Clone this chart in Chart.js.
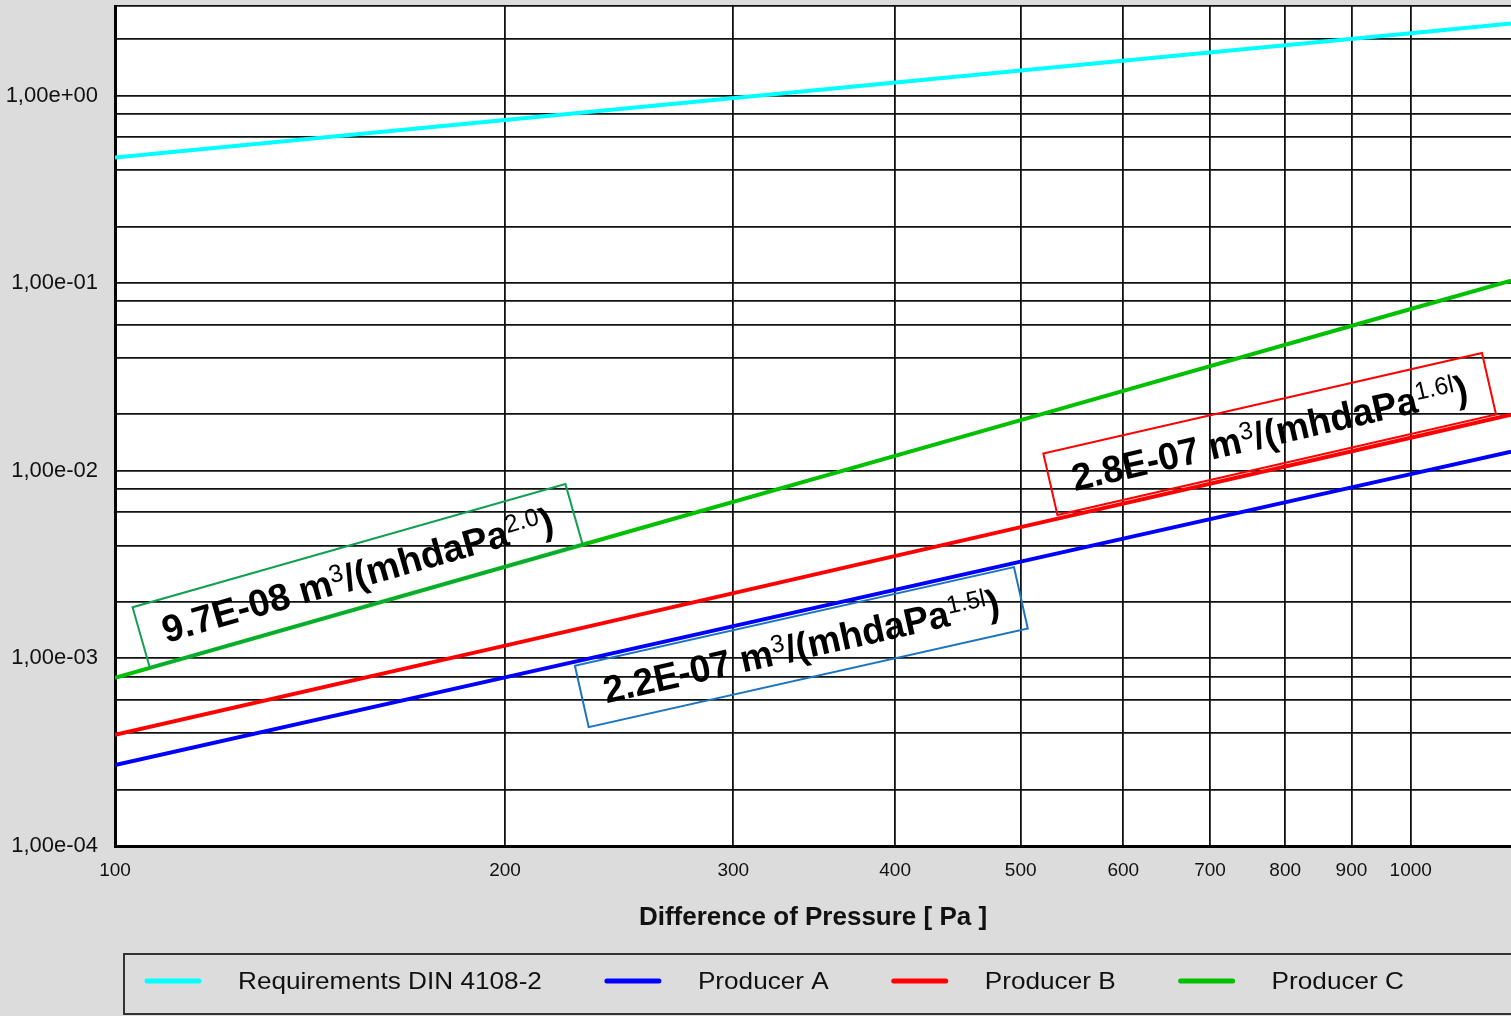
<!DOCTYPE html>
<html>
<head>
<meta charset="utf-8">
<title>Air permeability</title>
<script src="https://cdn.jsdelivr.net/npm/chart.js@4.4.0/dist/chart.umd.min.js"></script>
<style>
    html, body { margin: 0; padding: 0; background: #dcdcdc; overflow: hidden; }
    #wrap { position: relative; width: 1511px; height: 1016px; }
</style>
</head>
<body>
<div id="wrap"><canvas id="chart"></canvas></div>
<script>
// ── data ───────────────────────────────────────────────────────
// pressure difference [Pa] where the curves were read
const pressure = [100, 200, 500, 1000, 1195];

const seriesNames = ['Requirements DIN 4108-2', 'Producer A', 'Producer B', 'Producer C'];
const seriesColors = ['#00ffff', '#0000ff', '#ff0000', '#00c000'];

const requirement = [0.467, 0.740, 1.36, 2.15, 2.42];
const producerA = [2.70e-4, 7.92e-4, 3.28e-3, 9.6e-3, 1.265e-2];
const producerB = [3.91e-4, 1.17e-3, 5.01e-3, 1.50e-2, 1.99e-2];
const producerC = [7.87e-4, 3.08e-3, 1.86e-2, 7.28e-2, 0.103];

// axis ticks
const pressureTicks = [100, 200, 300, 400, 500, 600, 700, 800, 900, 1000];
const pressureTickLabels = ['100', '200', '300', '400', '500', '600', '700', '800', '900', '1000'];
const flowGrid = [1e-4, 2e-4, 4e-4, 6e-4, 8e-4, 1e-3, 2e-3, 4e-3, 6e-3, 8e-3,
                  1e-2, 2e-2, 4e-2, 6e-2, 8e-2, 0.1, 0.2, 0.4, 0.6, 0.8, 1, 2];
const flowTicks = [1e-4, 1e-3, 1e-2, 1e-1, 1];
const flowTickLabels = ['1,00e-04', '1,00e-03', '1,00e-02', '1,00e-01', '1,00e+00'];

// coefficient labels drawn along the lines
const coefValues = ['9.7E-08', '2.2E-07', '2.8E-07'];
const coefExponents = ['2.0', '1.5l', '1.6l'];
const coefSeries = [3, 1, 2];

const xMin = 100, xMax = 1195, yMin = 1e-4, yMax = 3;

// ── label placement (data coordinates of box centres) ─────────
const coefAtPressure = [153.9, 338.6, 778.3];
const coefAtFlow = [2.75e-3, 1.148e-3, 1.57e-2];
const coefBoxColors = ['#10a050', '#1a74c0', '#ff0000'];

const FONT = "'Liberation Sans', Arial, sans-serif";

function toPoints(values) {
    return values.map((v, i) => ({ x: pressure[i], y: v }));
}

const seriesValues = [requirement, producerA, producerB, producerC];

const datasets = seriesValues.map((vals, i) => ({
    label: seriesNames[i],
    data: toPoints(vals),
    borderColor: seriesColors[i],
    backgroundColor: seriesColors[i],
    borderWidth: 4,
    pointRadius: 0,
    tension: 0,
    fill: false
}));

function sameValue(a, b) {
    return Math.abs(a - b) <= Math.abs(b) * 1e-6;
}

// white plot area on the grey page
const plotBackground = {
    id: 'plotBackground',
    beforeDraw(chart) {
        const { ctx, chartArea: a } = chart;
        ctx.save();
        ctx.fillStyle = '#ffffff';
        ctx.fillRect(a.left, a.top, a.right - a.left, a.bottom - a.top);
        ctx.restore();
    }
};

// rotated boxes with the flow coefficients
const coefLabels = {
    id: 'coefLabels',
    afterDatasetsDraw(chart) {
        const { ctx, scales: { x, y } } = chart;
        coefSeries.forEach((si, i) => {
            const pts = chart.data.datasets[si].data;
            const p0 = pts[0], p1 = pts[pts.length - 1];
            const angle = Math.atan2(
                y.getPixelForValue(p1.y) - y.getPixelForValue(p0.y),
                x.getPixelForValue(p1.x) - x.getPixelForValue(p0.x)
            );
            const cx = x.getPixelForValue(coefAtPressure[i]);
            const cy = y.getPixelForValue(coefAtFlow[i]);
            const w = 450, h = 63;

            ctx.save();
            ctx.translate(cx, cy);
            ctx.rotate(angle);

            ctx.strokeStyle = coefBoxColors[i];
            ctx.lineWidth = 2;
            ctx.strokeRect(-w / 2, -h / 2, w, h);

            const big = 'bold 38px ' + FONT;
            const small = '25px ' + FONT;
            const parts = [
                { t: coefValues[i] + ' m', f: big, dy: 0 },
                { t: '3', f: small, dy: -12 },
                { t: '/(mhdaPa', f: big, dy: 0 },
                { t: coefExponents[i], f: small, dy: -12 },
                { t: ')', f: big, dy: 0 }
            ];
            let total = 0;
            parts.forEach(p => { ctx.font = p.f; p.w = ctx.measureText(p.t).width; total += p.w; });
            const sx = 405 / total;
            ctx.scale(sx, 1);
            ctx.fillStyle = '#000';
            ctx.textBaseline = 'alphabetic';
            let tx = -total / 2;
            parts.forEach(p => {
                ctx.font = p.f;
                ctx.fillText(p.t, tx, 12 + p.dy);
                tx += p.w;
            });
            ctx.restore();
        });
    }
};

// legend strip under the chart
const legendStrip = {
    id: 'legendStrip',
    afterDraw(chart) {
        const { ctx } = chart;
        ctx.save();
        ctx.strokeStyle = '#333';
        ctx.lineWidth = 2;
        ctx.strokeRect(124, 954, 1400, 60);

        const stretch = 1.09;
        ctx.font = '24px ' + FONT;
        ctx.textBaseline = 'middle';
        let lx = 147;
        const ly = 981;
        chart.data.datasets.forEach(ds => {
            ctx.strokeStyle = ds.borderColor;
            ctx.lineWidth = 5;
            ctx.lineCap = 'round';
            ctx.beginPath();
            ctx.moveTo(lx, ly);
            ctx.lineTo(lx + 52, ly);
            ctx.stroke();

            const tx = lx + 91;
            const tw = ctx.measureText(ds.label).width * stretch;
            ctx.save();
            ctx.translate(tx, ly);
            ctx.scale(stretch, 1);
            ctx.fillStyle = '#111';
            ctx.fillText(ds.label, 0, 1);
            ctx.restore();
            lx = tx + tw + 65;
        });
        ctx.restore();
    }
};

new Chart(document.getElementById('chart'), {
    type: 'line',
    data: { datasets },
    plugins: [plotBackground, coefLabels, legendStrip],
    options: {
        responsive: true,
        maintainAspectRatio: false,
        animation: false,
        layout: { padding: { top: 6, right: 0, bottom: 83, left: 0 } },
        plugins: {
            legend: { display: false },
            tooltip: { enabled: false }
        },
        scales: {
            x: {
                type: 'logarithmic',
                min: xMin,
                max: xMax,
                afterBuildTicks: (scale) => {
                    scale.ticks = pressureTicks.map(v => ({ value: v }));
                },
                afterFit: (scale) => {
                    scale.height = 87;
                    scale.paddingLeft = 0;
                    scale.paddingRight = 0;
                },
                grid: { color: '#111', lineWidth: 1.8, drawTicks: false },
                border: { display: true, color: '#000', width: 3 },
                ticks: {
                    autoSkip: false,
                    maxRotation: 0,
                    padding: 13,
                    color: '#111',
                    font: { family: FONT, size: 19 },
                    callback: (value) => {
                        const i = pressureTicks.findIndex(t => sameValue(value, t));
                        return i >= 0 ? pressureTickLabels[i] : '';
                    }
                },
                title: {
                    display: true,
                    text: 'Difference of Pressure [ Pa ]',
                    color: '#111',
                    padding: 0,
                    font: { family: FONT, size: 26, weight: 'bold' }
                }
            },
            y: {
                type: 'logarithmic',
                min: yMin,
                max: yMax,
                afterBuildTicks: (scale) => {
                    scale.ticks = flowGrid.concat([yMax]).map(v => ({ value: v }));
                },
                afterFit: (scale) => {
                    scale.width = 115;
                    scale.paddingTop = 0;
                    scale.paddingBottom = 0;
                },
                grid: { color: '#111', lineWidth: 1.8, drawTicks: false },
                border: { display: true, color: '#000', width: 3 },
                ticks: {
                    autoSkip: false,
                    padding: 17,
                    color: '#111',
                    font: { family: FONT, size: 22 },
                    callback: (value) => {
                        const i = flowTicks.findIndex(t => sameValue(value, t));
                        return i >= 0 ? flowTickLabels[i] : '';
                    }
                }
            }
        }
    }
});
</script>
</body>
</html>
